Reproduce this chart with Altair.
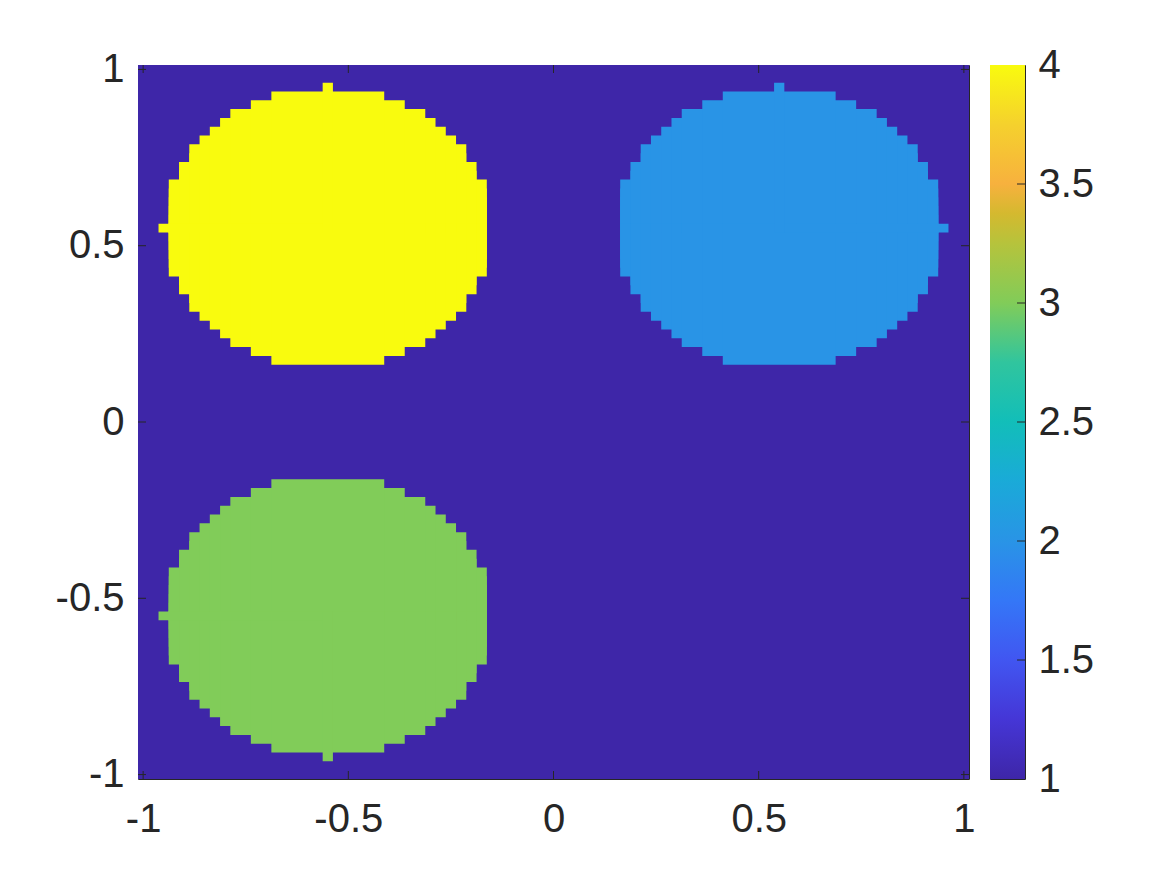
import altair as alt
import pandas as pd

# ---------------- data ----------------
STEP = 0.025                      # grid spacing (81 x 81 points on [-1, 1])
BACKGROUND_VALUE = 1
CIRCLE_CX = [-0.55, 0.55, -0.55]
CIRCLE_CY = [0.55, 0.55, -0.55]
CIRCLE_VALUE = [4, 2, 3]
CIRCLE_BUMP_X = [-1, 1, -1]       # side of the one-cell bump on the centre row
CIRCLE_BUMP_Y = [1, 1, -1]        # side of the one-cell bump on the centre column
# half-width (in cells) of the circle rows, for row offsets 0..15 cells from centre
ROW_HALF_CELLS = [15, 15, 15, 15, 15, 15, 14, 14, 13, 13, 12, 11, 10, 9, 7, 5]
BUMP_CELLS = 16

AXIS_TICKS = [-1, -0.5, 0, 0.5, 1]
CBAR_TICKS = [1, 1.5, 2, 2.5, 3, 3.5, 4]
CBAR_INNER_TICKS = [1.5, 2, 2.5, 3, 3.5]

PARULA_VALUES = [1.0, 1.25, 1.5, 1.75, 2.0, 2.25, 2.5, 2.75, 3.0, 3.25, 3.375, 3.5, 3.75, 4.0]
PARULA_COLORS = ["#3E26A8", "#4536D6", "#4156F1", "#3477F7", "#2994E6", "#1AAAD8",
                 "#12BEB9", "#30C59E", "#81CC59", "#B6C33C", "#D4B92F", "#F7B13E",
                 "#F5D12D", "#F9FB0E"]

# ---------------- build the cell table ----------------
# Each circle row k is drawn as a block reaching from the circle's centre row out to
# row k with row k's width; the blocks nest, so their union is exactly the set of
# filled cells and no seams appear between rows of the same colour.
H = STEP / 2
rows = [dict(x0=-1 - H, x1=1 + H, y0=-1 - H, y1=1 + H, v=BACKGROUND_VALUE)]
for cx, cy, val, bx, by in zip(CIRCLE_CX, CIRCLE_CY, CIRCLE_VALUE, CIRCLE_BUMP_X, CIRCLE_BUMP_Y):
    for k, hw in enumerate(ROW_HALF_CELLS):
        x0, x1 = cx - hw * STEP - H, cx + hw * STEP + H
        rows.append(dict(x0=x0, x1=x1, y0=cy - H, y1=cy + k * STEP + H, v=val))
        if k > 0:
            rows.append(dict(x0=x0, x1=x1, y0=cy - k * STEP - H, y1=cy + H, v=val))
    # one-cell bumps on the centre row / centre column
    xb = cx + bx * BUMP_CELLS * STEP
    rows.append(dict(x0=min(cx, xb) - H, x1=max(cx, xb) + H, y0=cy - H, y1=cy + H, v=val))
    yb = cy + by * BUMP_CELLS * STEP
    rows.append(dict(x0=cx - H, x1=cx + H, y0=min(cy, yb) - H, y1=max(cy, yb) + H, v=val))
cells = pd.DataFrame(rows)
ticks = pd.DataFrame({"t": AXIS_TICKS})
cb_df = pd.DataFrame({"lo": [PARULA_VALUES[0]], "hi": [PARULA_VALUES[-1]]})
cb_ticks = pd.DataFrame({"t": CBAR_INNER_TICKS})

# ---------------- styling ----------------
W, HGT = 831, 714
CB_W = 35
TL = 8
FONT = "Liberation Sans"
FS = 40
INK = "#262626"

xscale = alt.Scale(domain=[-1 - H, 1 + H], nice=False, zero=False)
yscale = alt.Scale(domain=[-1 - H, 1 + H], nice=False, zero=False)
cscale = alt.Scale(domain=PARULA_VALUES, range=PARULA_COLORS, interpolate="rgb")

common_axis = dict(labelExpr="toString(datum.value)", title=None, domain=False,
                   ticks=False, grid=False, labelFontSize=FS, labelFont=FONT,
                   labelColor=INK, labelFlush=False, labelOverlap=False)
xaxis = alt.Axis(values=AXIS_TICKS, labelPadding=20, **common_axis)
yaxis = alt.Axis(values=AXIS_TICKS, labelPadding=14, minExtent=90, maxExtent=90, **common_axis)

heat = alt.Chart(cells).mark_rect().encode(
    x=alt.X("x0:Q", scale=xscale, axis=xaxis),
    x2="x1:Q",
    y=alt.Y("y0:Q", scale=yscale, axis=yaxis),
    y2="y1:Q",
    color=alt.Color("v:Q", scale=cscale, legend=None),
)

rule = dict(color=INK, strokeWidth=1)
xt_bottom = alt.Chart(ticks).mark_rule(**rule).encode(
    x=alt.X("t:Q", scale=xscale, axis=xaxis), y=alt.value(HGT), y2=alt.value(HGT - TL))
xt_top = alt.Chart(ticks).mark_rule(**rule).encode(
    x=alt.X("t:Q", scale=xscale, axis=xaxis), y=alt.value(0), y2=alt.value(TL))
yt_left = alt.Chart(ticks).mark_rule(**rule).encode(
    y=alt.Y("t:Q", scale=yscale, axis=yaxis), x=alt.value(0), x2=alt.value(TL))
yt_right = alt.Chart(ticks).mark_rule(**rule).encode(
    y=alt.Y("t:Q", scale=yscale, axis=yaxis), x=alt.value(W), x2=alt.value(W - TL))

main = alt.layer(heat, xt_bottom, xt_top, yt_left, yt_right).properties(width=W, height=HGT)

# ---------------- colour bar ----------------
cb_scale = alt.Scale(domain=[PARULA_VALUES[0], PARULA_VALUES[-1]], nice=False, zero=False)
cb_axis = alt.Axis(orient="right", values=CBAR_TICKS, labelPadding=13, **common_axis)
span = PARULA_VALUES[-1] - PARULA_VALUES[0]
gradient = alt.Gradient(
    gradient="linear",
    stops=[alt.GradientStop(offset=(v - PARULA_VALUES[0]) / span, color=c)
           for v, c in zip(PARULA_VALUES, PARULA_COLORS)],
    x1=0, x2=0, y1=1, y2=0,
)
cb_rect = alt.Chart(cb_df).mark_rect(fill=gradient).encode(
    y=alt.Y("lo:Q", scale=cb_scale, axis=cb_axis), y2="hi:Q",
    x=alt.value(0), x2=alt.value(CB_W))
cb_rule = alt.Chart(cb_ticks).mark_rule(**rule).encode(
    y=alt.Y("t:Q", scale=cb_scale, axis=cb_axis), x=alt.value(CB_W - TL), x2=alt.value(CB_W))
cbar = alt.layer(cb_rect, cb_rule).properties(width=CB_W, height=HGT)

chart = alt.hconcat(main, cbar, spacing=21, bounds="flush").properties(
    padding={"left": 39, "top": 36, "right": 5, "bottom": 5},
    background="white",
).configure_view(stroke=INK, strokeWidth=1)

chart.save("out.html", embed_options={"renderer": "svg", "actions": False})
